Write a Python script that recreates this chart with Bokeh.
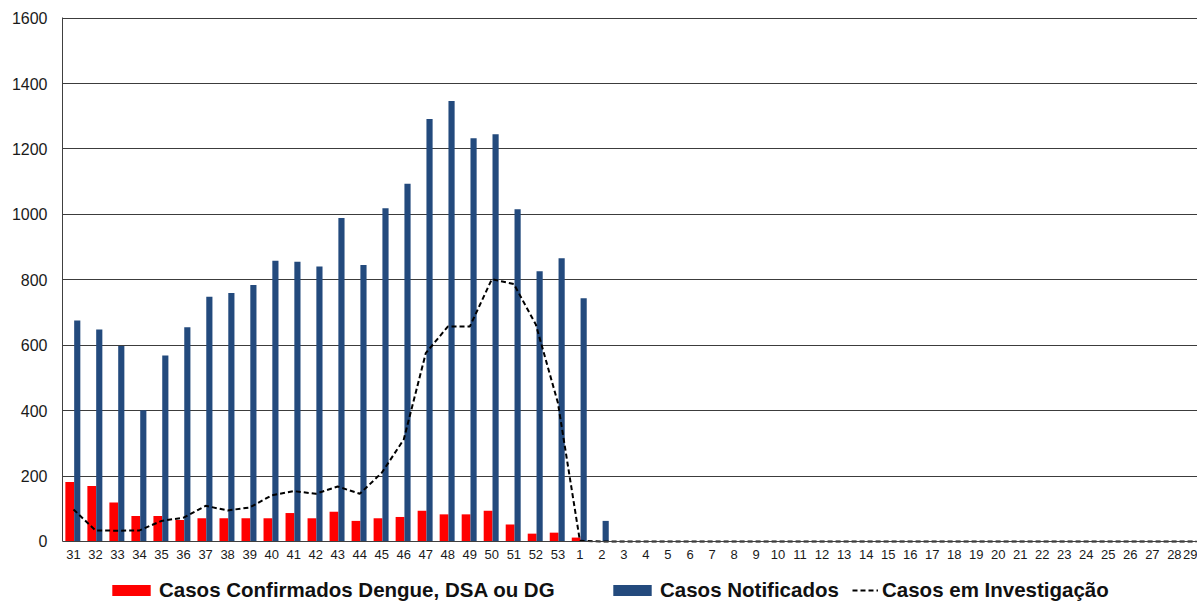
from bokeh.plotting import figure
from bokeh.models import (Range1d, FixedTicker, Legend, LegendItem, ColumnDataSource)
from bokeh.transform import dodge
from bokeh.embed import file_html
from bokeh.resources import INLINE

weeks = ["31", "32", "33", "34", "35", "36", "37", "38", "39", "40", "41", "42",
         "43", "44", "45", "46", "47", "48", "49", "50", "51", "52", "53",
         "1", "2", "3", "4", "5", "6", "7", "8", "9", "10", "11", "12", "13",
         "14", "15", "16", "17", "18", "19", "20", "21", "22", "23", "24", "25",
         "26", "27", "28", "29"]

confirmados = [182, 170, 119, 78, 78, 66, 71, 71, 71, 71, 87, 71,
               91, 63, 71, 75, 94, 83, 83, 94, 52, 24, 27,
               12, 0, 0, 0, 0, 0, 0, 0, 0, 0, 0, 0, 0,
               0, 0, 0, 0, 0, 0, 0, 0, 0, 0, 0, 0,
               0, 0, 0, 0]

notificados = [676, 648, 598, 401, 569, 655, 748, 760, 784, 858, 855, 841,
               989, 845, 1019, 1094, 1292, 1347, 1233, 1245, 1016, 826, 866,
               744, 63, 0, 0, 0, 0, 0, 0, 0, 0, 0, 0, 0,
               0, 0, 0, 0, 0, 0, 0, 0, 0, 0, 0, 0,
               0, 0, 0, 0]

investigacao = [98, 34, 33, 34, 63, 73, 109, 95, 104, 141, 154, 146,
                168, 146, 210, 312, 576, 657, 657, 802, 787, 663, 424,
                2, 0, 0, 0, 0, 0, 0, 0, 0, 0, 0, 0, 0,
                0, 0, 0, 0, 0, 0, 0, 0, 0, 0, 0, 0,
                0, 0, 0, 0]

y_ticks = [0, 200, 400, 600, 800, 1000, 1200, 1400, 1600]

pos = [i + 0.5 for i in range(len(weeks))]
src = ColumnDataSource(dict(pos=pos, week=weeks, conf=confirmados,
                            notif=notificados, inv=investigacao))

# frame extends below zero so the legend can sit inside the canvas
p = figure(frame_width=1135, frame_height=585, output_backend="svg",
           toolbar_location=None,
           x_range=Range1d(0, 51.55), y_range=Range1d(-186.5, 1602))
p.min_border_left = 62
p.min_border_right = 0
p.min_border_top = 17
p.min_border_bottom = 0
p.outline_line_color = None
p.background_fill_color = "white"
p.border_fill_color = "white"

r_conf = p.vbar(x=dodge("pos", -0.17, range=p.x_range), top="conf", width=0.40,
                bottom=0, source=src, fill_color="#FF0000", line_color=None)
r_notif = p.vbar(x=dodge("pos", 0.17, range=p.x_range), top="notif", width=0.28,
                 bottom=0, source=src, fill_color="#234A7D", line_color=None)
r_inv = p.line(x="pos", y="inv", source=src, line_color="black", line_width=2,
               line_dash="5 3")

p.xgrid.visible = False
p.ygrid.ticker = FixedTicker(ticks=y_ticks)
p.ygrid.grid_line_color = "#3c3c3c"
p.ygrid.grid_line_width = 1

p.yaxis.ticker = FixedTicker(ticks=y_ticks)
p.yaxis.bounds = (0, 1602)
p.xaxis.ticker = FixedTicker(ticks=pos)
p.xaxis.major_label_overrides = {pv: w for pv, w in zip(pos, weeks)}
p.xaxis.fixed_location = 0

for ax in (p.xaxis[0], p.yaxis[0]):
    ax.axis_line_color = "#404040"
    ax.axis_line_width = 1
    ax.major_tick_line_color = None
    ax.minor_tick_line_color = None
    ax.major_label_text_font = "Liberation Sans"
    ax.major_label_text_color = "#1a1a1a"

p.yaxis.major_label_text_font_size = "16px"
p.yaxis.major_label_standoff = 9
p.xaxis.major_label_text_font_size = "13px"
p.xaxis.major_label_standoff = 3


def make_legend(label, renderer, loc, gw):
    lg = Legend(items=[LegendItem(label=label, renderers=[renderer])],
                orientation="horizontal", location=loc)
    lg.label_text_font = "Liberation Sans"
    lg.label_text_font_style = "bold"
    lg.label_text_font_size = "20.5px"
    lg.label_text_color = "#111111"
    lg.glyph_width = gw
    lg.glyph_height = 14
    lg.label_height = 20
    lg.label_standoff = 4
    lg.padding = 0
    lg.margin = 0
    lg.border_line_color = None
    lg.background_fill_alpha = 0
    p.add_layout(lg, "center")


make_legend("Casos Confirmados Dengue, DSA ou DG", r_conf, (45, 0), 48)
make_legend("Casos Notificados", r_notif, (546, 0), 48)
make_legend("Casos em Investigação", r_inv, (790, 0), 26)

open("out.html", "w").write(file_html(p, INLINE))
